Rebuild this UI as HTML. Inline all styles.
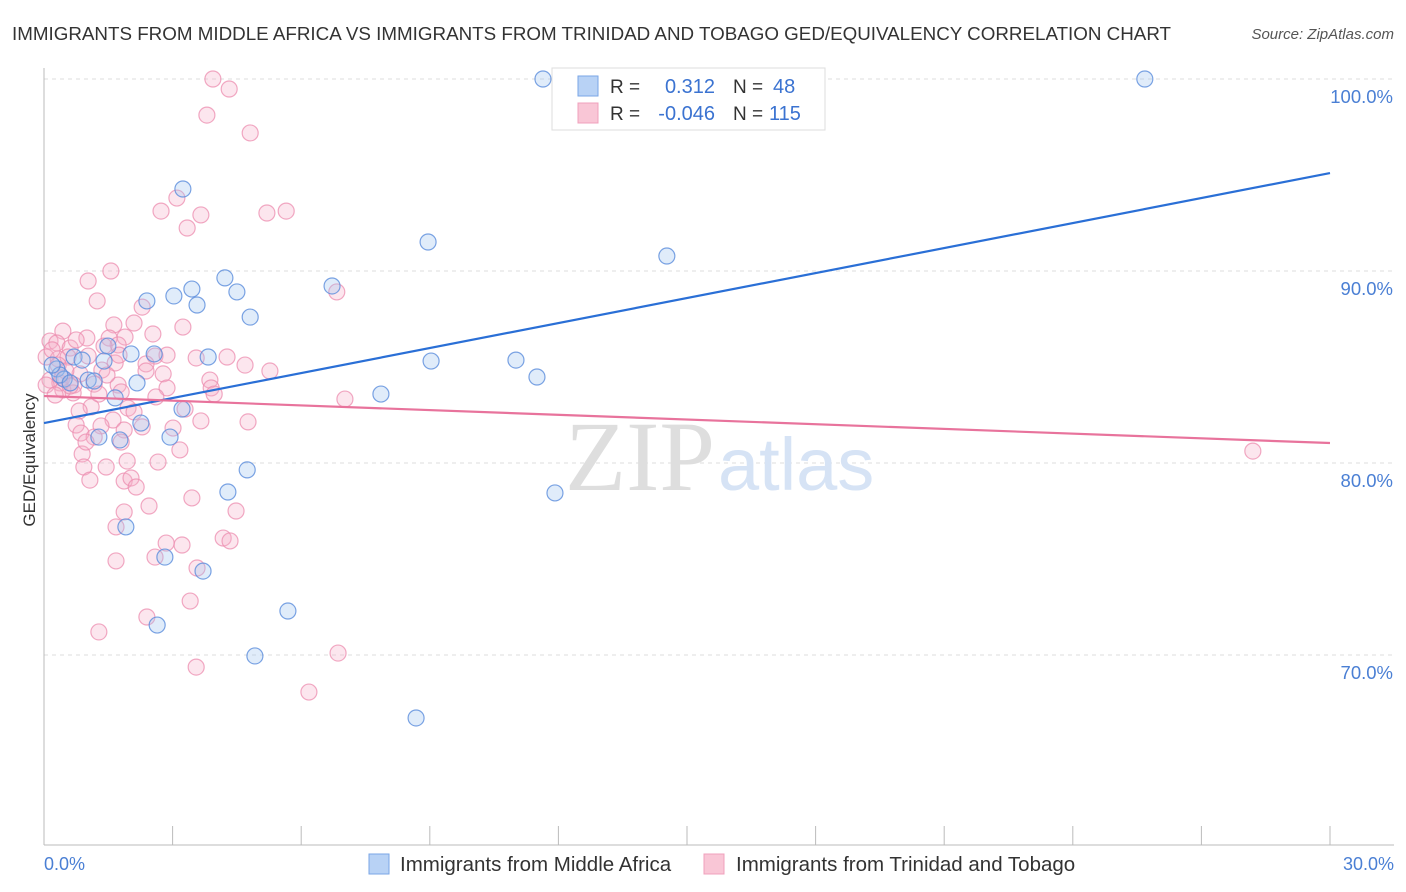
<!DOCTYPE html>
<html><head><meta charset="utf-8"><style>
body{margin:0;background:#fff;font-family:"Liberation Sans",sans-serif;}
svg{display:block}
</style></head><body>
<svg id="chart" width="1406" height="892">
<text x="12" y="40" font-size="18.8" fill="#333">IMMIGRANTS FROM MIDDLE AFRICA VS IMMIGRANTS FROM TRINIDAD AND TOBAGO GED/EQUIVALENCY CORRELATION CHART</text>
<text x="1394" y="39" font-size="15" fill="#555" text-anchor="end" font-style="italic">Source: ZipAtlas.com</text>
<g id="grid"></g>
<text x="715" y="490" font-size="100" fill="#dedede" text-anchor="end" font-family="Liberation Serif">ZIP</text>
<text x="718" y="490" font-size="74" fill="#d6e3f5">atlas</text>
<g id="axes"></g>
<g id="pts"></g>
<g id="lines"></g>
<text x="35" y="460" font-size="17" fill="#333" text-anchor="middle" transform="rotate(-90 35 460)">GED/Equivalency</text>
<text x="44" y="870" font-size="18" fill="#4a7fd4">0.0%</text>
<text x="1394" y="870" font-size="18" fill="#4a7fd4" text-anchor="end">30.0%</text>
<g>
<rect x="552" y="68" width="273" height="62" fill="#fff" stroke="#ddd"/>
<rect x="578" y="76" width="20" height="20" fill="#b8d2f5" stroke="#7aa6e6"/>
<rect x="578" y="103" width="20" height="20" fill="#f9c6d6" stroke="#f0a0bc"/>
<text x="610" y="93" font-size="19" fill="#333">R =</text>
<text x="715" y="93" font-size="20" fill="#3b73d1" text-anchor="end">0.312</text>
<text x="733" y="93" font-size="19" fill="#333">N =</text>
<text x="773" y="93" font-size="20" fill="#3b73d1">48</text>
<text x="610" y="120" font-size="19" fill="#333">R =</text>
<text x="715" y="120" font-size="20" fill="#3b73d1" text-anchor="end">-0.046</text>
<text x="733" y="120" font-size="19" fill="#333">N =</text>
<text x="769" y="120" font-size="20" fill="#3b73d1">115</text>
</g>
<g>
<rect x="369" y="854" width="20" height="20" fill="#b8d2f5" stroke="#7aa6e6"/>
<text x="400" y="871" font-size="20.5" fill="#333">Immigrants from Middle Africa</text>
<rect x="704" y="854" width="20" height="20" fill="#f9c6d6" stroke="#f0a0bc"/>
<text x="736" y="871" font-size="20.5" fill="#333">Immigrants from Trinidad and Tobago</text>
</g>
</svg>
<script>
const yTicks=[100,90,80,70];
const yTickLabels=["100.0%","90.0%","80.0%","70.0%"];
const xTicks=[0,3,6,9,12,15,18,21,24,27,30];
const blueX=[11.64,25.68,3.24,8.96,14.53,4.22,6.72,3.45,4.50,3.03,2.40,3.57,4.81,1.49,2.57,2.03,3.83,0.70,0.89,9.03,11.01,1.40,0.30,11.50,0.47,1.03,2.17,1.17,7.86,1.66,3.22,2.26,2.94,1.28,1.77,4.74,4.29,11.92,1.91,2.82,3.71,5.69,2.64,4.92,8.68,0.37,0.61,0.19];
const blueY=[100,100,94.27,91.51,90.78,89.64,89.22,89.06,88.91,88.70,88.44,88.23,87.60,86.09,85.68,85.68,85.52,85.52,85.36,85.31,85.36,85.31,84.90,84.48,84.37,84.32,84.17,84.27,83.59,83.39,82.81,82.08,81.35,81.35,81.20,79.64,78.49,78.44,76.67,75.10,74.37,72.29,71.56,69.95,66.72,84.58,84.17,85.10];
const pinkX=[3.94,4.32,3.80,4.81,3.10,2.73,5.20,5.65,3.66,3.34,1.56,1.03,1.24,6.83,2.29,2.10,3.24,1.63,0.44,0.14,0.30,1.00,1.52,1.89,1.73,0.61,2.59,2.87,3.55,4.27,0.05,0.33,0.56,1.66,2.38,4.69,5.27,2.78,1.35,0.84,0.14,0.37,0.70,1.17,1.73,3.87,2.87,3.90,0.44,0.05,0.68,2.61,7.02,1.10,1.96,3.29,0.82,2.10,1.61,3.66,4.76,0.75,1.33,0.86,1.87,1.17,1.80,3.17,0.89,1.94,2.66,0.93,1.45,1.07,1.87,2.03,2.15,3.45,2.45,4.48,1.87,1.68,4.18,4.34,2.85,3.22,2.59,1.68,3.57,3.41,2.40,1.28,6.86,3.55,6.18,28.20,0.33,0.51,0.19,0.75,1.03,1.28,1.47,0.42,0.61,1.75,2.29,3.01,2.54,1.40,0.26,0.98,1.80,2.38,3.97];
const pinkY=[100,99.48,98.12,97.19,93.80,93.12,93.02,93.12,92.92,92.24,90.00,89.48,88.44,88.91,88.12,87.29,87.08,87.19,86.87,86.35,86.25,86.51,86.51,86.56,86.15,85.99,85.57,85.62,85.47,85.52,85.52,85.42,85.52,85.21,85.16,85.10,84.79,84.64,84.84,84.64,84.32,84.17,84.06,84.11,84.06,84.32,83.91,83.91,83.80,84.06,83.65,83.44,83.33,82.92,82.86,82.81,82.71,82.66,82.24,82.19,82.14,81.98,81.93,81.56,81.72,81.35,81.09,80.68,80.47,80.10,80.05,79.79,79.79,79.11,79.06,79.22,78.75,78.18,77.76,77.50,77.45,76.67,76.09,75.94,75.83,75.73,75.10,74.90,74.53,72.81,71.98,71.20,70.10,69.37,68.07,80.62,85.10,84.79,85.89,86.41,85.57,83.59,84.58,84.43,84.01,85.62,81.88,81.82,86.72,86.09,83.54,81.09,83.70,84.79,83.59];
const blueTrend=[82.08,95.10];
const pinkTrend=[83.49,81.04];
const trendX=[0,30];

const NS="http://www.w3.org/2000/svg";
const X0=44,X1=1330,Y100=79,PPY=19.2;
const sx=v=>X0+(v-0)/(30-0)*(X1-X0);
const sy=v=>Y100+(100-v)*PPY;
function mk(tag,attrs,parent){const e=document.createElementNS(NS,tag);for(const k in attrs)e.setAttribute(k,attrs[k]);parent.appendChild(e);return e;}
const grid=document.getElementById('grid'),axes=document.getElementById('axes'),pts=document.getElementById('pts'),lines=document.getElementById('lines');
yTicks.forEach((t,i)=>{
  const l=mk('line',{x1:X0,x2:1394,y1:sy(t),y2:sy(t),stroke:'#ddd','stroke-dasharray':'4,4'},grid);
  
  
  const tx=mk('text',{x:1393,y:sy(t)+24,'font-size':18.5,fill:'#4a7fd4','text-anchor':'end'},axes);
  tx.textContent=yTickLabels[i];
  
  
});
const ax=mk('line',{x1:X0,x2:1394,y1:845,y2:845,stroke:'#bbb'},axes);


const ay=mk('line',{x1:X0,x2:X0,y1:68,y2:845,stroke:'#bbb'},axes);


xTicks.forEach(t=>{
  const l=mk('line',{x1:sx(t),x2:sx(t),y1:826,y2:845,stroke:'#bbb'},axes);
  
  
});
function drawPts(xs,ys,fill,stroke,name){
  xs.forEach((v,i)=>{
    const c=mk('circle',{cx:sx(v),cy:sy(ys[i]),r:8,fill:fill,stroke:stroke,'stroke-width':1.2},pts);
    
    
  });
}
drawPts(pinkX,pinkY,'rgba(246,176,202,0.32)','rgba(236,140,175,0.75)','point-trinidad-tobago');
drawPts(blueX,blueY,'rgba(160,195,240,0.32)','rgba(90,140,220,0.8)','point-middle-africa');
const bl=mk('line',{x1:sx(trendX[0]),y1:sy(blueTrend[0]),x2:sx(trendX[1]),y2:sy(blueTrend[1]),stroke:'#2a6fd6','stroke-width':2.2},lines);


const pl=mk('line',{x1:sx(trendX[0]),y1:sy(pinkTrend[0]),x2:sx(trendX[1]),y2:sy(pinkTrend[1]),stroke:'#e8739c','stroke-width':2.2},lines);


</script>
</body></html>
